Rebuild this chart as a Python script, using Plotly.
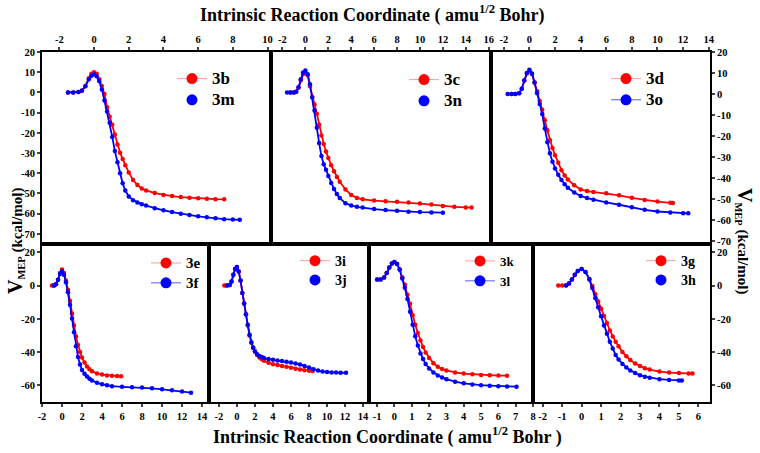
import plotly.graph_objects as go

# ---------------- data ----------------
# Panel 1: 3b (red) / 3m (blue)
x_3b = [-1.5, -1.2, -0.9, -0.7, -0.5, -0.3, -0.15, 0, 0.15, 0.3, 0.45, 0.6, 0.75, 0.9, 1.05, 1.2, 1.35, 1.5,
        1.65, 1.8, 2.0, 2.25, 2.5, 2.75, 3.0, 3.5, 4.0, 4.5, 5.0, 5.5, 6.0, 6.5, 7.0, 7.5]
y_3b = [0, 0, 0.2, 0.9, 3.2, 7, 9.2, 10, 9.2, 6.5, 3.2, -0.8, -7.3, -12, -16, -20.8, -25.8, -29.8,
        -33, -36, -39.6, -43.3, -45.8, -47.5, -48.5, -49.8, -50.7, -51.3, -51.8, -52.1, -52.4, -52.6, -52.8, -52.9]
x_3m = [-1.5, -1.2, -0.9, -0.7, -0.5, -0.3, -0.15, 0, 0.15, 0.3, 0.45, 0.6, 0.75, 0.9, 1.05, 1.2, 1.35, 1.5,
        1.65, 1.8, 2.0, 2.25, 2.5, 2.75, 3.0, 3.5, 4.0, 4.5, 5.0, 5.5, 6.0, 6.5, 7.0, 7.5, 8.0, 8.4]
y_3m = [0, 0, 0.2, 0.8, 3, 6.5, 8.2, 9, 8, 5.5, 1.5, -4, -9.5, -15, -22, -29, -34.5, -40,
        -45, -48.5, -51.5, -53.3, -54.5, -55.3, -56, -57.3, -58.3, -59.2, -60, -60.7, -61.3, -61.8, -62.3, -62.7, -62.9, -63]

# Panel 2: 3c (red) / 3n (blue)
x_3c = [-1.3, -1.0, -0.8, -0.6, -0.4, -0.2, 0, 0.2, 0.4, 0.6, 0.8, 1.0, 1.2, 1.4, 1.6, 1.8, 2.0, 2.25, 2.5,
        2.75, 3.0, 3.5, 4.0, 4.5, 5, 6, 7, 8, 9, 10, 11, 12, 13, 14, 14.5]
y_3c = [0, 0, 0.3, 2.3, 6, 9, 10.2, 8.5, 3, -2.3, -6, -10.5, -16, -21.3, -25.5, -29.2, -32.5, -36, -39,
        -41.8, -44.2, -48, -50.7, -52.2, -52.9, -53.5, -53.8, -54.1, -54.5, -55, -55.5, -56.2, -56.6, -56.9, -57]
x_3n = [-1.6, -1.3, -1.0, -0.8, -0.6, -0.4, -0.2, 0, 0.2, 0.4, 0.6, 0.8, 1.0, 1.2, 1.4, 1.6, 1.8, 2.0, 2.25,
        2.5, 2.75, 3.0, 3.5, 4.0, 4.5, 5, 6, 7, 8, 9, 10, 11, 12]
y_3n = [0, 0, 0, 0.3, 2.5, 6.5, 9.8, 10.8, 9, 4, -2.5, -9, -17.5, -25, -31.5, -35.5, -38.3, -41.3, -44.8,
        -47.8, -50.3, -52.3, -54.8, -56, -56.6, -57, -57.7, -58.2, -58.6, -59, -59.2, -59.4, -59.5]

# Panel 3: 3d (red) / 3o (blue)
x_3d = [-1.4, -1.1, -0.8, -0.6, -0.4, -0.2, 0, 0.2, 0.4, 0.6, 0.8, 1.0, 1.2, 1.4, 1.6, 1.8, 2.0, 2.25, 2.5,
        2.75, 3.0, 3.5, 4.0, 4.5, 5, 6, 7, 8, 9, 10, 11, 11.2]
y_3d = [0, 0, 0.3, 2.5, 6.3, 9.8, 11, 9.5, 5.5, 1.3, -3.3, -7.5, -12.5, -17.3, -22, -25.7, -29.2, -32.8, -36.3,
        -38.8, -40.8, -43.5, -45.5, -46.3, -46.7, -47.3, -48.3, -49.5, -50.5, -51.3, -51.9, -52]
x_3o = [-1.7, -1.4, -1.1, -0.8, -0.6, -0.4, -0.2, 0, 0.2, 0.4, 0.6, 0.8, 1.0, 1.2, 1.4, 1.6, 1.8, 2.0, 2.25,
        2.5, 2.75, 3.0, 3.5, 4.0, 4.5, 5, 6, 7, 8, 9, 10, 11, 12, 12.4]
y_3o = [0, 0, 0, 0.3, 2.5, 6.5, 10, 11.5, 9.8, 5.5, 0.3, -4.8, -9.5, -16.5, -23, -28.3, -32.3, -35.5, -38.5,
        -41, -43, -44.7, -47, -48.6, -49.6, -50.4, -51.7, -52.8, -54, -55.2, -56, -56.5, -56.8, -56.9]

# Panel 4: 3e (red) / 3f (blue)
x_3e = [-1.0, -0.8, -0.6, -0.4, -0.2, 0, 0.2, 0.4, 0.6, 0.8, 1.0, 1.2, 1.4, 1.6, 1.8, 2.0, 2.25, 2.5, 2.75,
        3.0, 3.5, 4.0, 4.5, 5.0, 5.5, 5.9]
y_3e = [0, 0, 0.8, 3.5, 7.5, 9.6, 7.5, 3, -2.5, -9.3, -16.8, -24, -30.6, -35.7, -40, -43.3, -46.3, -48.6, -50.3,
        -51.5, -52.8, -53.5, -54, -54.2, -54.4, -54.5]
x_3f = [-0.8, -0.6, -0.4, -0.2, 0, 0.2, 0.4, 0.6, 0.8, 1.0, 1.2, 1.4, 1.6, 1.8, 2.0, 2.25, 2.5, 2.75, 3.0,
        3.5, 4.0, 4.5, 5, 6, 7, 8, 9, 10, 11, 12, 12.9]
y_3f = [0, 0.8, 3.5, 7, 8.6, 6.5, 2, -4, -11.5, -19.8, -28, -36.5, -43, -47.5, -50.7, -53, -54.7, -56, -57,
        -58.5, -59.3, -60, -60.5, -60.9, -61.1, -61.3, -61.8, -62.4, -63, -63.7, -64.4]

# Panel 5: 3i (red) / 3j (blue)
x_3i = [-1.4, -1.1, -0.8, -0.6, -0.4, -0.2, 0, 0.2, 0.4, 0.6, 0.8, 1.0, 1.2, 1.4, 1.6, 1.8, 2.0, 2.25, 2.5,
        2.75, 3.0, 3.5, 4.0, 4.5, 5, 5.5, 6, 6.5, 7, 7.5, 8, 8.4]
y_3i = [0, 0, 0.3, 2.5, 6.5, 10, 11.2, 8.5, 3, -4.5, -10.8, -17.4, -24, -30, -34.3, -37.5, -39.8, -41.8, -43.2,
        -44.3, -45.2, -46.4, -47.3, -47.8, -48.3, -48.8, -49.4, -50, -50.5, -50.9, -51.2, -51.4]
x_3j = [-1.1, -0.8, -0.6, -0.4, -0.2, 0, 0.2, 0.4, 0.6, 0.8, 1.0, 1.2, 1.4, 1.6, 1.8, 2.0, 2.25, 2.5, 2.75,
        3.0, 3.5, 4.0, 4.5, 5, 5.5, 6, 6.5, 7, 7.5, 8, 8.5, 9, 9.5, 10, 10.5, 11, 11.5, 12.1]
y_3j = [0, 0.3, 2.5, 6.5, 10, 11.2, 8.5, 3, -4.5, -10.8, -17.2, -23.6, -29.5, -34, -37.3, -39.5, -41.3, -42.4, -43,
        -43.6, -44.2, -44.6, -45, -45.4, -45.8, -46.3, -46.8, -47.4, -48.3, -49.3, -50.3, -51.1, -51.7, -52, -52.2,
        -52.3, -52.4, -52.4]

# Panel 6: 3k (red) / 3l (blue)
x_3k = [-1.0, -0.8, -0.6, -0.45, -0.3, -0.15, 0, 0.15, 0.3, 0.45, 0.6, 0.75, 0.9, 1.05, 1.2, 1.35, 1.5, 1.65,
        1.8, 2.0, 2.25, 2.5, 2.75, 3.0, 3.5, 4.0, 4.5, 5.0, 5.5, 6.0, 6.5]
y_3k = [3.6, 3.7, 4.8, 7.5, 10.8, 13.3, 14.2, 13, 9.8, 5, 0.5, -5.5, -11, -17.8, -23.5, -28.5, -33, -37,
        -40.3, -43.5, -46.7, -48.8, -50.2, -51, -52.2, -52.9, -53.3, -53.7, -53.9, -54.1, -54.2]
x_3l = [-1.0, -0.8, -0.6, -0.45, -0.3, -0.15, 0, 0.15, 0.3, 0.45, 0.6, 0.75, 0.9, 1.05, 1.2, 1.35, 1.5, 1.65,
        1.8, 2.0, 2.25, 2.5, 2.75, 3.0, 3.5, 4.0, 4.5, 5.0, 5.5, 6.0, 6.5, 7.05]
y_3l = [3.6, 3.7, 4.8, 7.5, 10.8, 13.3, 14.2, 13, 9.5, 4.3, -1.3, -8, -15.8, -23.5, -30.5, -36, -40.8, -44.2,
        -47.2, -49.8, -52.2, -54, -55.3, -56.3, -57.8, -58.8, -59.5, -59.9, -60.2, -60.5, -60.7, -60.8]

# Panel 7: 3g (red) / 3h (blue)
x_3g = [-1.2, -1.0, -0.8, -0.65, -0.5, -0.35, -0.2, 0, 0.2, 0.4, 0.55, 0.7, 0.85, 1.0, 1.15, 1.3, 1.45, 1.6,
        1.75, 1.9, 2.1, 2.3, 2.5, 2.75, 3.0, 3.25, 3.5, 4.0, 4.5, 5.0, 5.5, 5.7]
y_3g = [0, 0, 0.2, 1.3, 3.6, 6.5, 8.8, 10, 8.2, 3.9, -0.3, -5.2, -9.6, -14, -18.3, -22.5, -27, -30.6,
        -33.8, -36.5, -40, -42.5, -44.8, -46.8, -48.4, -49.7, -50.5, -51.7, -52.3, -52.6, -52.8, -52.9]
x_3h = [-0.8, -0.65, -0.5, -0.35, -0.2, 0, 0.2, 0.4, 0.55, 0.7, 0.85, 1.0, 1.15, 1.3, 1.45, 1.6, 1.75, 1.9,
        2.1, 2.3, 2.5, 2.75, 3.0, 3.25, 3.5, 4.0, 4.5, 5.0, 5.15]
y_3h = [0, 1.3, 3.6, 6.5, 8.8, 10, 8.2, 3.6, -1.5, -7.5, -13, -18.5, -24, -29, -33.8, -37.8, -41.8, -44.5,
        -47.2, -49.3, -51, -52.6, -53.9, -54.8, -55.4, -56.3, -56.7, -57, -57]

# axis ranges and tick values
x_ranges = [[-3, 10.2], [-3, 16.2], [-3, 14.1], [-2, 14.7], [-3.1, 14.6], [-1.5, 8], [-2.5, 6.6]]
x_tickvals = [[-2, 0, 2, 4, 6, 8, 10], [-2, 0, 2, 4, 6, 8, 10, 12, 14, 16], [-2, 0, 2, 4, 6, 8, 10, 12, 14],
              [-2, 0, 2, 4, 6, 8, 10, 12, 14], [-2, 0, 2, 4, 6, 8, 10, 12, 14],
              [-1, 0, 1, 2, 3, 4, 5, 6, 7, 8], [-2, -1, 0, 1, 2, 3, 4, 5, 6]]
y_ranges = [[-75, 20], [-75, 20], [-71.5, 20], [-70, 25], [-70, 25], [-70, 25], [-70, 25]]
y_tickvals_top = [20, 10, 0, -10, -20, -30, -40, -50, -60, -70]
y_tickvals_bottom = [20, 0, -20, -40, -60]

W, H = 760, 453
FONT = "Liberation Serif"
RED, BLUE = "#ff0000", "#0000ff"
RED_L, BLUE_L = "#ff9c9c", "#5a5aff"

# panel frames in pixels: (left, right, top, bottom)
frames = [(42, 271, 52, 244), (271, 491, 52, 244), (491, 710, 52, 244),
          (42, 209, 244, 402), (209, 368.5, 244, 402), (368.5, 533, 244, 402), (533, 710, 244, 402)]

# (red series, blue series, legend pos px, legend box font, label font)
panels = [
    (("3b", x_3b, y_3b, True), ("3m", x_3m, y_3m, False), (172, 63), 14, 17),
    (("3c", x_3c, y_3c, True), ("3n", x_3n, y_3n, False), (404, 64), 14, 17),
    (("3d", x_3d, y_3d, True), ("3o", x_3o, y_3o, True), (606, 63), 14, 17),
    (("3e", x_3e, y_3e, True), ("3f", x_3f, y_3f, True), (146, 248), 13, 15),
    (("3i", x_3i, y_3i, True), ("3j", x_3j, y_3j, False), (295, 246), 12.5, 14),
    (("3k", x_3k, y_3k, True), ("3l", x_3l, y_3l, True), (460, 246), 13, 13),
    (("3g", x_3g, y_3g, True), ("3h", x_3h, y_3h, False), (641, 246), 12.5, 14),
]

tickfont = dict(family=FONT, size=10.5, color="black", weight="bold")

fig = go.Figure()
layout = {}
for i, (red, blue, legpos, lbox, lfs) in enumerate(panels):
    n = i + 1
    sfx = "" if n == 1 else str(n)
    xa, ya = "x" + sfx, "y" + sfx
    leg = "legend" + sfx
    for (name, xs, ys, legline), col, lcol in ((red, RED, RED_L), (blue, BLUE, BLUE_L)):
        fig.add_trace(go.Scatter(x=xs, y=ys, mode="lines+markers", xaxis=xa, yaxis=ya,
                                 line=dict(color=col, width=1.8), marker=dict(color=col, size=4.5),
                                 showlegend=False, hoverinfo="skip"))
        fig.add_trace(go.Scatter(x=[None], y=[None], name=f"<span style='font-size:{lfs}px'>{name}</span>",
                                 xaxis=xa, yaxis=ya, legend=leg,
                                 mode="lines+markers" if legline else "markers",
                                 line=dict(color=lcol, width=1), marker=dict(color=col, size=11)))
    l, r, t, b = frames[i]
    top_row = n <= 3
    xv = x_tickvals[i]
    layout["xaxis" + sfx] = dict(
        domain=[l / W, r / W], anchor=ya, range=x_ranges[i],
        tickmode="array", tickvals=xv, ticktext=[str(v) for v in xv],
        side="top" if top_row else "bottom", ticks="outside", ticklen=3, tickwidth=1.5,
        showline=True, linewidth=2, linecolor="black", mirror=True, showgrid=False, zeroline=False,
        tickfont=tickfont, automargin=False)
    yv = y_tickvals_top if top_row else y_tickvals_bottom
    yd = dict(domain=[1 - b / H, 1 - t / H], anchor=xa, range=y_ranges[i],
              tickmode="array", tickvals=yv, ticktext=[str(v) for v in yv],
              showline=True, linewidth=2, linecolor="black", mirror=True, showgrid=False, zeroline=False,
              tickfont=tickfont, automargin=False)
    if n in (1, 4):
        yd.update(side="left", ticks="outside", ticklen=3, tickwidth=1.5)
    elif n in (3, 7):
        yd.update(side="right", ticks="outside", ticklen=3, tickwidth=1.5)
    else:
        yd.update(ticks="", showticklabels=False)
    layout["yaxis" + sfx] = yd
    layout[leg] = dict(x=legpos[0] / W, y=1 - legpos[1] / H, xanchor="left", yanchor="top",
                       bgcolor="rgba(0,0,0,0)", borderwidth=0,
                       font=dict(family=FONT, size=lbox, color="black", weight="bold"))

title_font = dict(family=FONT, size=18, color="black", weight="bold")
ytitle = "<span style='font-size:20px'>V</span><sub>MEP</sub> (kcal/mol)"
annotations = [
    dict(text="Intrinsic Reaction Coordinate ( amu<sup>1/2</sup> Bohr)", x=372 / W, y=1 - 14 / H,
         xanchor="center", yanchor="middle",
         xref="paper", yref="paper", showarrow=False, font=title_font),
    dict(text="Intrinsic Reaction Coordinate ( amu<sup>1/2</sup> Bohr )", x=387 / W, y=1 - 436 / H,
         xanchor="center", yanchor="middle",
         xref="paper", yref="paper", showarrow=False, font=title_font),
    dict(text=ytitle, x=15 / W, y=1 - 241 / H, xref="paper", yref="paper", showarrow=False,
         xanchor="center", yanchor="middle",
         textangle=-90, font=dict(family=FONT, size=15, color="black", weight="bold")),
    dict(text=ytitle, x=745 / W, y=1 - 241 / H, xref="paper", yref="paper", showarrow=False,
         xanchor="center", yanchor="middle",
         textangle=90, font=dict(family=FONT, size=15, color="black", weight="bold")),
]

fig.update_layout(width=W, height=H, margin=dict(l=0, r=0, t=0, b=0, pad=0, autoexpand=False),
                  paper_bgcolor="white", plot_bgcolor="white", annotations=annotations, **layout)

fig.write_html("out.html", config={"displayModeBar": False},
               post_script="document.body.style.margin='0px';")
